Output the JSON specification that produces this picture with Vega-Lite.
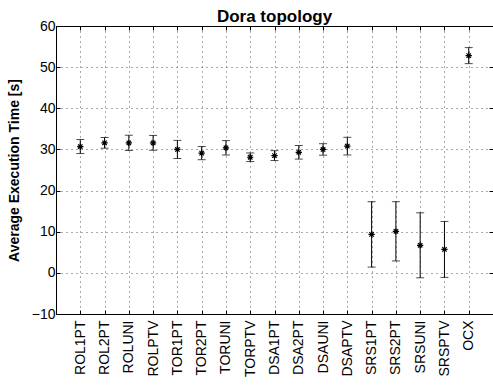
{
  "$schema": "https://vega.github.io/schema/vega-lite/v6.json",
  "width": 437,
  "height": 288,
  "autosize": {"type": "none"},
  "padding": {"left": 56, "top": 26, "right": 0, "bottom": 74},
  "background": "white",
  "title": {
    "text": "Dora topology",
    "font": "Liberation Sans",
    "fontSize": 17,
    "fontWeight": "bold",
    "color": "black",
    "offset": -7
  },
  "config": {
    "view": {"stroke": "black", "strokeWidth": 1},
    "axis": {
      "labelFont": "Liberation Sans",
      "labelFontSize": 14,
      "labelColor": "black",
      "titleFont": "Liberation Sans",
      "titleColor": "black",
      "domainColor": "black",
      "tickColor": "black",
      "gridColor": "#444444",
      "gridDash": [1, 4],
      "gridOpacity": 0.9
    }
  },
  "resolve": {"axis": {"x": "independent", "y": "independent"}},
  "data": {
    "values": [
      {"config": "ROL1PT", "mean": 30.7, "lo": 29.0, "hi": 32.4},
      {"config": "ROL2PT", "mean": 31.6, "lo": 30.3, "hi": 32.9},
      {"config": "ROLUNI", "mean": 31.6, "lo": 29.75, "hi": 33.45},
      {"config": "ROLPTV", "mean": 31.6, "lo": 29.8, "hi": 33.4},
      {"config": "TOR1PT", "mean": 30.0, "lo": 27.8, "hi": 32.2},
      {"config": "TOR2PT", "mean": 29.1, "lo": 27.5, "hi": 30.7},
      {"config": "TORUNI", "mean": 30.4, "lo": 28.65, "hi": 32.15},
      {"config": "TORPTV", "mean": 28.1, "lo": 27.05, "hi": 29.15},
      {"config": "DSA1PT", "mean": 28.5, "lo": 27.3, "hi": 29.7},
      {"config": "DSA2PT", "mean": 29.3, "lo": 27.65, "hi": 30.95},
      {"config": "DSAUNI", "mean": 30.0, "lo": 28.6, "hi": 31.4},
      {"config": "DSAPTV", "mean": 30.8, "lo": 28.65, "hi": 32.95},
      {"config": "SRS1PT", "mean": 9.35, "lo": 1.4, "hi": 17.3},
      {"config": "SRS2PT", "mean": 10.1, "lo": 2.9, "hi": 17.3},
      {"config": "SRSUNI", "mean": 6.7, "lo": -1.2, "hi": 14.6},
      {"config": "SRSPTV", "mean": 5.7, "lo": -1.1, "hi": 12.5},
      {"config": "OCX", "mean": 52.8, "lo": 50.85, "hi": 54.75}
    ]
  },
  "layer": [
    {
      "mark": {"type": "rule", "color": "black", "strokeWidth": 1},
      "encoding": {
        "x": {
          "field": "config",
          "type": "nominal",
          "sort": null,
          "scale": {"type": "point", "padding": 1},
          "axis": {
            "title": null,
            "labelAngle": -90,
            "labelPadding": 10,
            "tickSize": -4,
            "grid": true,
            "domain": true
          }
        },
        "y": {
          "field": "lo",
          "type": "quantitative",
          "scale": {"domain": [-10, 60], "nice": false, "zero": false},
          "axis": {
            "title": "Average Execution Time [s]",
            "titleFontSize": 14,
            "titleFontWeight": "bold",
            "titlePadding": 10,
            "values": [-10, 0, 10, 20, 30, 40, 50, 60],
            "grid": true,
            "tickSize": -4,
            "labelPadding": 5
          }
        },
        "y2": {"field": "hi"}
      }
    },
    {
      "mark": {"type": "tick", "color": "black", "size": 8, "thickness": 1},
      "encoding": {
        "x": {"field": "config", "type": "nominal", "sort": null, "axis": {"orient": "top", "labels": false, "title": null, "tickSize": -4, "grid": false}},
        "y": {"field": "lo", "type": "quantitative", "axis": {"orient": "right", "labels": false, "title": null, "tickSize": -4, "grid": false, "values": [-10, 0, 10, 20, 30, 40, 50, 60]}}
      }
    },
    {
      "mark": {"type": "tick", "color": "black", "size": 8, "thickness": 1},
      "encoding": {
        "x": {"field": "config", "type": "nominal", "sort": null, "axis": null},
        "y": {"field": "hi", "type": "quantitative", "axis": null}
      }
    },
    {
      "mark": {
        "type": "point",
        "shape": "M-1,0L1,0M0,-1L0,1M-0.7,-0.7L0.7,0.7M-0.7,0.7L0.7,-0.7",
        "filled": false,
        "color": "black",
        "strokeWidth": 1.2,
        "size": 40,
        "opacity": 1
      },
      "encoding": {
        "x": {"field": "config", "type": "nominal", "sort": null, "axis": null},
        "y": {"field": "mean", "type": "quantitative", "axis": null}
      }
    }
  ]
}
